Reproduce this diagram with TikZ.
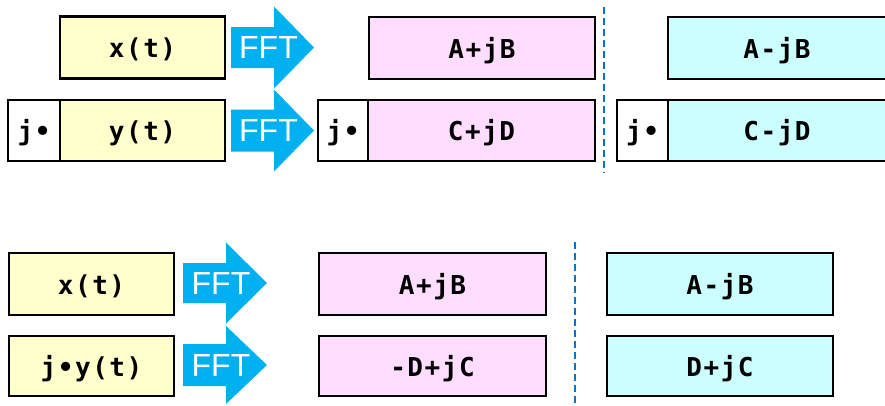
\documentclass[tikz,border=0pt]{standalone}
\usepackage{fontspec}
\setmainfont{Liberation Sans}
\newfontfamily\labelfont{DejaVu Sans Mono}[LetterSpace=6]
\usetikzlibrary{positioning}
\definecolor{sigyellow}{HTML}{FFFFCC}
\definecolor{specpink}{HTML}{FFDDFF}
\definecolor{speccyan}{HTML}{CCFFFF}
\definecolor{fftblue}{HTML}{00B0F0}
\definecolor{splitblue}{RGB}{10,115,200}
\tikzset{
  cellfont/.style={font=\labelfont\bfseries\fontsize{26}{30}\selectfont, text=black,
    text height=24pt, text depth=4pt},
  cell/.style={draw=black, line width=2.9pt, rectangle, inner sep=0pt, cellfont},
  xcell/.style={cell, fill=sigyellow},
  pcell/.style={cell, fill=specpink},
  ccell/.style={cell, fill=speccyan},
  jcell/.style={cell, fill=white},
  fftbody/.style={fill=fftblue, draw=none},
  fftlabel/.style={text=white, font=\fontsize{32}{36}\selectfont, inner sep=0pt},
  split/.style={draw=splitblue, line width=2.6pt, dash pattern=on 7pt off 4pt}
}
% draws a block arrow: left x, base of head x, tip x, centre y, half body, half head
\newcommand\fftarrow[7]{%
  \fill[fftbody] (#1,#4-#5) -- (#2,#4-#5) -- (#2,#4-#6) -- (#3,#4)
    -- (#2,#4+#6) -- (#2,#4+#5) -- (#1,#4+#5) -- cycle;
  \node[fftlabel] (#7) at ({(#1+#3)/2-4},#4) {FFT};}
\begin{document}
\begin{tikzpicture}[x=1pt, y=-1pt]
\useasboundingbox (0,0) rectangle (885,405);
\clip (0,0) rectangle (885,405);

% ---- upper half: two separate real inputs ----
\node[xcell, minimum width=165pt, minimum height=61.5pt] (x1) at (142.5,47.3) {x(t)};
\node[jcell, minimum width=52pt, minimum height=61pt] (jy) at (34,130.5) {j•};
\node[xcell, minimum width=165pt, minimum height=61pt] (y1) at (142.5,130.5) {y(t)};

\fftarrow{231}{274}{314}{47.5}{20.5}{41}{f1}
\fftarrow{231}{274}{314}{130.5}{21}{41}{f2}

\node[pcell, minimum width=226pt, minimum height=62pt] (ab1) at (482,48) {A+jB};
\node[jcell, minimum width=50pt, minimum height=61pt] (jc) at (343,130.5) {j•};
\node[pcell, minimum width=227pt, minimum height=61pt] (cd1) at (481.5,130.5) {C+jD};

\draw[split] (604,7) -- (604,173);

\node[ccell, minimum width=240pt, minimum height=62pt] (ab2) at (788,48) {};
\node[cellfont, inner sep=0pt] (ab2t) at (777,48) {A-jB};
\node[jcell, minimum width=51pt, minimum height=61pt] (jc2) at (642.5,130.5) {j•};
\node[ccell, minimum width=240pt, minimum height=61pt] (cd2) at (788,130.5) {};
\node[cellfont, inner sep=0pt] (cd2t) at (777,130.5) {C-jD};

% ---- lower half: one complex input ----
\node[xcell, minimum width=165pt, minimum height=62pt] (x2) at (91.5,284) {x(t)};
\node[xcell, minimum width=165pt, minimum height=60pt] (y2) at (91.5,366) {j•y(t)};

\fftarrow{183}{226}{267}{283}{20}{40.5}{f3}
\fftarrow{183}{226}{267}{365}{21}{39}{f4}

\node[pcell, minimum width=227pt, minimum height=62pt] (ab3) at (432.5,284) {A+jB};
\node[pcell, minimum width=227pt, minimum height=60pt] (dc3) at (432.5,366) {-D+jC};

\draw[split] (575,242) -- (575,410);

\node[ccell, minimum width=226pt, minimum height=62pt] (ab4) at (720,284) {A-jB};
\node[ccell, minimum width=226pt, minimum height=60pt] (dc4) at (720,366) {D+jC};
\end{tikzpicture}
\end{document}
